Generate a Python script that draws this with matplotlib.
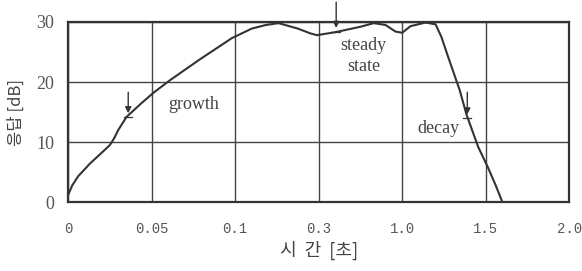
import matplotlib
matplotlib.use("Agg")
import matplotlib.pyplot as plt

# x axis is not linear in the original: ticks are evenly spaced labels
tick_labels = ["0", "0.05", "0.1", "0.3", "1.0", "1.5", "2.0"]
y_ticks = [0, 10, 20, 30]

# curve, x in tick-slot units (0..6), y in dB
curve_x = [0.00, 0.05, 0.12, 0.26, 0.40, 0.50, 0.55, 0.60, 0.70, 0.88, 1.03,
           1.22, 1.57, 1.96, 2.20, 2.37, 2.52, 2.75, 2.90, 2.98, 3.20, 3.50,
           3.66, 3.80, 3.92, 4.00, 4.10, 4.28, 4.40, 4.47, 4.55, 4.61, 4.69,
           4.77, 4.91, 5.03, 5.12, 5.20]
curve_y = [1.2, 2.8, 4.3, 6.4, 8.2, 9.5, 10.6, 12.0, 14.2, 16.5, 18.3,
           20.3, 23.7, 27.3, 28.9, 29.5, 29.8, 28.9, 28.1, 27.8, 28.3, 29.2,
           29.8, 29.5, 28.4, 28.2, 29.3, 29.9, 29.6, 27.5, 24.2, 21.8, 18.6,
           14.6, 9.2, 5.7, 2.8, 0.0]

labels = ["growth", "steady\nstate", "decay"]
label_x = [1.50, 3.54, 4.43]
label_y = [16.2, 24.3, 12.3]

arrow_x = [0.72, 3.21, 4.78]
arrow_top = [18.3, 33.3, 18.3]
arrow_tip = [14.8, 29.0, 14.6]

fig = plt.figure(figsize=(5.82, 2.71), dpi=100)
ax = fig.add_axes([0.117, 0.254, 0.861, 0.665])

ax.plot(curve_x, curve_y, color="#333333", lw=1.5, zorder=3)

for xa, yt, yb in zip(arrow_x, arrow_top, arrow_tip):
    ax.annotate("", xy=(xa, yb), xytext=(xa, yt),
                arrowprops=dict(arrowstyle="-|>", color="#333333", lw=1.0,
                                mutation_scale=9, shrinkA=0, shrinkB=0),
                annotation_clip=False, zorder=4)
    ax.plot([xa - 0.05, xa + 0.05], [yb - 0.6, yb - 0.6], color="#333333",
            lw=0.9, zorder=4, clip_on=False)

for t, xl, yl in zip(labels, label_x, label_y):
    ax.text(xl, yl, t, ha="center", va="center", fontsize=13,
            family="Liberation Serif", color="#444444", linespacing=1.3)

ax.set_xlim(0, 6)
ax.set_ylim(0, 30)
ax.set_xticks(range(len(tick_labels)))
ax.set_xticklabels(tick_labels, family="Liberation Mono", fontsize=10,
                   color="#555555")
ax.set_yticks(y_ticks)
ax.set_yticklabels([str(v) for v in y_ticks], family="Liberation Serif",
                   fontsize=13, color="#555555")
ax.tick_params(length=0)
ax.tick_params(axis="x", pad=14)
ax.tick_params(axis="y", pad=10)
ax.grid(True, color="#444444", lw=1.0)
ax.set_axisbelow(True)
for s in ax.spines.values():
    s.set_linewidth(1.6)
    s.set_color("#333333")

ax.set_xlabel("시  간  [초]", family=["Noto Sans CJK KR", "DejaVu Sans"],
              fontsize=13, color="#444444", labelpad=4)
ax.set_ylabel("응답 [dB]", family=["Noto Sans CJK KR", "DejaVu Sans"],
              fontsize=12, color="#444444", labelpad=8)

fig.savefig("out.png", dpi=100)
